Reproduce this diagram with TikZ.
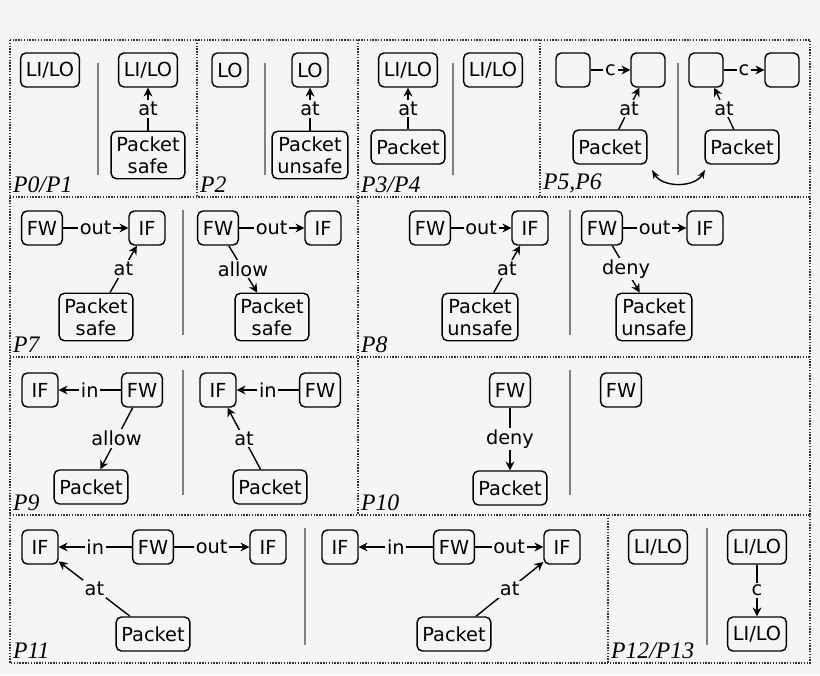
\documentclass[tikz,border=0pt]{standalone}
\usepackage{fontspec}
\setmainfont{DejaVu Sans}
\newfontfamily\plabelfont{Liberation Serif}
\usetikzlibrary{arrows.meta}
\definecolor{bgcol}{HTML}{F5F5F5}
\tikzset{
	box/.style={draw, thick, rounded corners=3pt, minimum height=0.68cm,
		minimum width=0.72cm, inner sep=3pt, align=center, fill=bgcol,
		font=\fontsize{11}{12.5}\selectfont},
	empty/.style={box, minimum width=0.68cm, minimum height=0.68cm},
	lbl/.style={fill=bgcol, inner sep=1pt, font=\fontsize{11}{12}\selectfont},
	rel/.style={thick, -{Stealth[length=5pt,width=5pt]}},
	panel/.style={line width=1.5pt, dotted, dash pattern=on 0.8pt off 0.8pt, black!80},
	sep/.style={gray, semithick},
	plabel/.style={anchor=south west, inner sep=1pt,
		font=\plabelfont\itshape\fontsize{13.5}{13.5}\selectfont}
}
\begin{document}
\begin{tikzpicture}[x=0.02cm, y=-0.02cm]
	\fill[bgcol] (0,0) rectangle (820,675);
	\useasboundingbox (0,0) rectangle (820,675);
	% Rahmen
	\draw[panel] (10,40) rectangle (810,663);
	\draw[panel] (10,197) -- (810,197);
	\draw[panel] (10,357) -- (810,357);
	\draw[panel] (10,515) -- (810,515);
	\draw[panel] (197,40) -- (197,197);
	\draw[panel] (358,40) -- (358,515);
	\draw[panel] (540,40) -- (540,197);
	\draw[panel] (608,515) -- (608,663);
	% Trennlinien
	\foreach \x/\ya/\yb in {98/63/175, 265/63/175, 453/63/175, 678/63/175,
		183/210/335, 570/210/335, 183/370/495, 570/370/495, 305/528/645, 707/528/645}
		\draw[sep] (\x,\ya) -- (\x,\yb);

	% P0/P1
	\node[box] (lilo1) at (50,70) {LI/LO};
	\node[box] (lilo2) at (148,70) {LI/LO};
	\node[box] (pkt1) at (148,155) {Packet\\safe};
	\draw[rel] (pkt1) -- node[lbl] {at} (lilo2);
	\node[plabel] (p01) at (11,195) {P0/P1};
	% P2
	\node[box] (lo1) at (230,70) {LO};
	\node[box] (lo2) at (310,70) {LO};
	\node[box] (pkt2) at (310,155) {Packet\\unsafe};
	\draw[rel] (pkt2) -- node[lbl] {at} (lo2);
	\node[plabel] (p2) at (198,195) {P2};
	% P3/P4
	\node[box] (lilo3) at (408,70) {LI/LO};
	\node[box] (pkt3) at (408,147) {Packet};
	\draw[rel] (pkt3) -- node[lbl] {at} (lilo3);
	\node[box] (lilo4) at (493,70) {LI/LO};
	\node[plabel] (p34) at (359,195) {P3/P4};
	% P5,P6
	\node[empty] (e1) at (573,70) {};
	\node[empty] (e2) at (648,70) {};
	\draw[rel] (e1) -- node[lbl] {c} (e2);
	\node[box] (pkt4) at (610,147) {Packet};
	\draw[rel] (pkt4) -- node[lbl] {at} (e2);
	\node[empty] (e3) at (706,70) {};
	\node[empty] (e4) at (782,70) {};
	\draw[rel] (e3) -- node[lbl] {c} (e4);
	\node[box] (pkt5) at (742,147) {Packet};
	\draw[rel] (pkt5) -- node[lbl] {at} (e3);
	\coordinate (sw1) at (652,170);
	\coordinate (sw2) at (705,170);
	\draw[thick, {Stealth[length=5pt]}-{Stealth[length=5pt]}] (sw1) to[bend right=60] (sw2);
	\node[plabel] (p56) at (541,195) {P5,P6};

	% P7
	\node[box] (fw1) at (42,228) {FW};
	\node[box] (if1) at (147,228) {IF};
	\node[box] (pkt6) at (96,317) {Packet\\safe};
	\draw[rel] (fw1) -- node[lbl] {out} (if1);
	\draw[rel] (pkt6) -- node[lbl] {at} (if1);
	\node[box] (fw2) at (218,228) {FW};
	\node[box] (if2) at (323,228) {IF};
	\node[box] (pkt7) at (272,317) {Packet\\safe};
	\draw[rel] (fw2) -- node[lbl] {out} (if2);
	\draw[rel] (fw2) -- node[lbl] {allow} (pkt7);
	\node[plabel] (p7) at (11,355) {P7};
	% P8
	\node[box] (fw3) at (430,228) {FW};
	\node[box] (if3) at (530,228) {IF};
	\node[box] (pkt8) at (480,317) {Packet\\unsafe};
	\draw[rel] (fw3) -- node[lbl] {out} (if3);
	\draw[rel] (pkt8) -- node[lbl] {at} (if3);
	\node[box] (fw4) at (602,228) {FW};
	\node[box] (if4) at (705,228) {IF};
	\node[box] (pkt9) at (654,317) {Packet\\unsafe};
	\draw[rel] (fw4) -- node[lbl] {out} (if4);
	\draw[rel] (fw4) -- node[lbl] {deny} (pkt9);
	\node[plabel] (p8) at (359,355) {P8};

	% P9
	\node[box] (if5) at (40,390) {IF};
	\node[box] (fw5) at (142,390) {FW};
	\node[box] (pkt10) at (91,487) {Packet};
	\draw[rel] (fw5) -- node[lbl] {in} (if5);
	\draw[rel] (fw5) -- node[lbl] {allow} (pkt10);
	\node[box] (if6) at (218,390) {IF};
	\node[box] (fw6) at (320,390) {FW};
	\node[box] (pkt11) at (270,487) {Packet};
	\draw[rel] (fw6) -- node[lbl] {in} (if6);
	\draw[rel] (pkt11) -- node[lbl] {at} (if6);
	\node[plabel] (p9) at (11,513) {P9};
	% P10
	\node[box] (fw7) at (510,390) {FW};
	\node[box] (pkt12) at (510,488) {Packet};
	\draw[rel] (fw7) -- node[lbl] {deny} (pkt12);
	\node[box] (fw8) at (621,390) {FW};
	\node[plabel] (p10) at (359,513) {P10};

	% P11
	\node[box] (if7) at (40,547) {IF};
	\node[box] (fw9) at (153,547) {FW};
	\node[box] (if8) at (268,547) {IF};
	\node[box] (pkt13) at (153,634) {Packet};
	\draw[rel] (fw9) -- node[lbl] {in} (if7);
	\draw[rel] (fw9) -- node[lbl] {out} (if8);
	\draw[rel] (pkt13) -- node[lbl] {at} (if7);
	\node[box] (if9) at (340,547) {IF};
	\node[box] (fw10) at (454,547) {FW};
	\node[box] (if10) at (562,547) {IF};
	\node[box] (pkt14) at (454,634) {Packet};
	\draw[rel] (fw10) -- node[lbl] {in} (if9);
	\draw[rel] (fw10) -- node[lbl] {out} (if10);
	\draw[rel] (pkt14) -- node[lbl] {at} (if10);
	\node[plabel] (p11) at (11,661) {P11};
	% P12/P13
	\node[box] (lilo5) at (658,547) {LI/LO};
	\node[box] (lilo6) at (757,547) {LI/LO};
	\node[box] (lilo7) at (757,634) {LI/LO};
	\draw[rel] (lilo6) -- node[lbl] {c} (lilo7);
	\node[plabel] (p1213) at (609,661) {P12/P13};
\end{tikzpicture}
\end{document}
